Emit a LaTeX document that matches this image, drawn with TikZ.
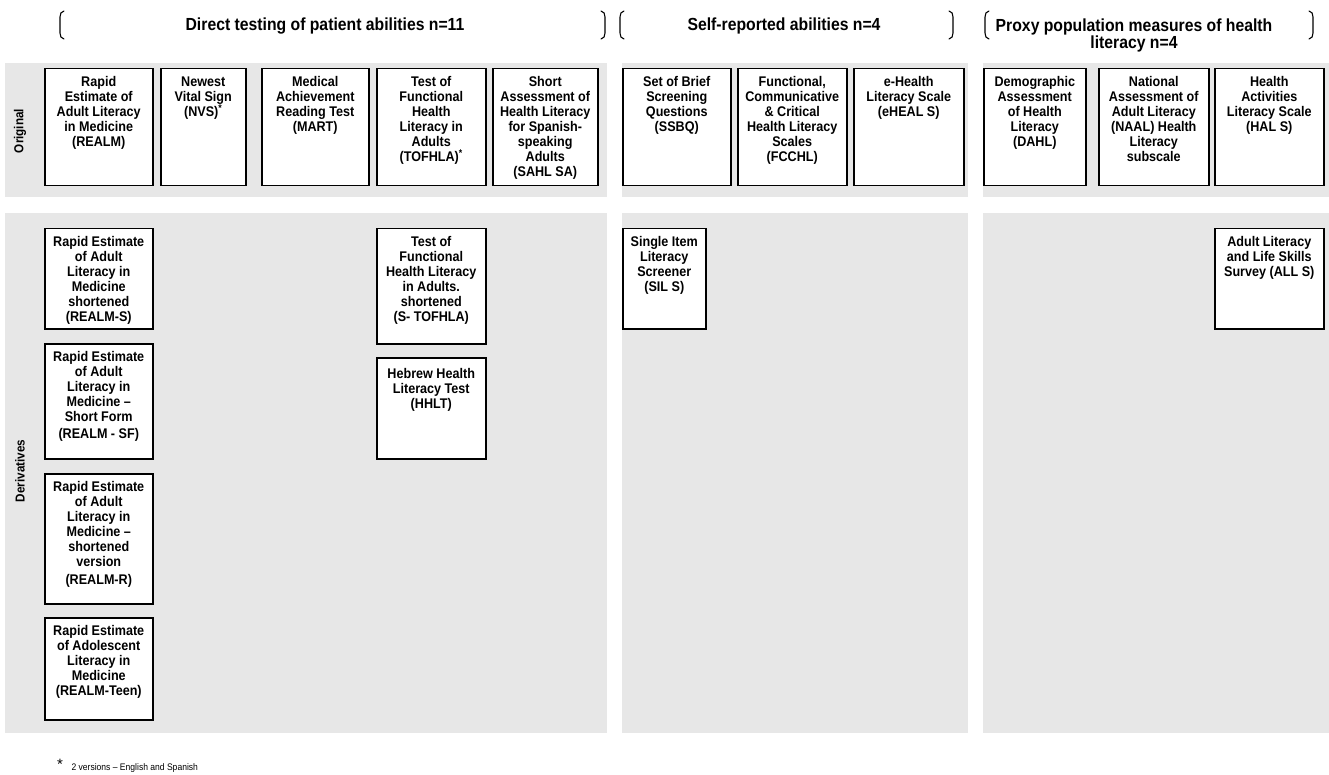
\documentclass[tikz,border=0pt]{standalone}
\usepackage{fontspec}
\setmainfont{Liberation Sans}
\newfontfamily\boxfam[FakeStretch=0.9]{Liberation Sans}
\definecolor{bandgray}{RGB}{231,231,231}
\newcommand{\boxfont}{\boxfam\bfseries\fontsize{14}{15}\selectfont}
\newcommand{\bx}[7][8]{\node[box] (#2) at (#3,#4) {\parbox[c][#6pt][t]{#5pt}{\centering\vspace*{#1pt}\boxfont #7\par}};}
\tikzset{
  band/.style={fill=bandgray, draw=none},
  box/.style={draw=black, fill=white, line width=1.5pt, inner sep=0pt, anchor=north west},
  hdr/.style={font=\boxfam\bfseries\fontsize{17.5}{17}\selectfont, align=center},
  side/.style={font=\boxfam\bfseries\fontsize{13}{14}\selectfont, rotate=90},
  brk/.style={line width=1.1pt, line cap=round},
}
\begin{document}
\begin{tikzpicture}[x=1pt,y=-1pt]
\useasboundingbox (0,0) rectangle (1329,775);
% bands
\fill[band] (5,63) rectangle (607,197);
\fill[band] (622,63) rectangle (968,197);
\fill[band] (983,63) rectangle (1329,197);
\fill[band] (5,213) rectangle (607,733);
\fill[band] (622,213) rectangle (968,733);
\fill[band] (983,213) rectangle (1329,733);
% headers
\draw[brk] (64,11) to[out=180,in=90] (60,17) -- (60,33) to[out=-90,in=180] (64,39);
\draw[brk] (601,11) to[out=0,in=90] (605,17) -- (605,33) to[out=-90,in=0] (601,39);
\draw[brk] (624,11) to[out=180,in=90] (620,17) -- (620,33) to[out=-90,in=180] (624,39);
\draw[brk] (949,11) to[out=0,in=90] (953,17) -- (953,33) to[out=-90,in=0] (949,39);
\draw[brk] (989,11) to[out=180,in=90] (985,17) -- (985,33) to[out=-90,in=180] (989,39);
\draw[brk] (1309,11) to[out=0,in=90] (1313,17) -- (1313,33) to[out=-90,in=0] (1309,39);
\node[hdr] (h1) at (325,26) {Direct testing of patient abilities n=11};
\node[hdr] (h2) at (784,26) {Self-reported abilities n=4};
\node[hdr] (h3) at (1134,35) {Proxy population measures of health\\literacy n=4};
% side labels
\node[side] (lo) at (20,131) {Original};
\node[side] (ld) at (20,471) {Derivatives};
% original row
\bx{o1}{44}{68}{108}{117}{Rapid\\Estimate of\\Adult Literacy\\in Medicine\\(REALM)}
\bx{o2}{160}{68}{85}{117}{Newest\\Vital Sign\\(NVS)\textsuperscript{*}}
\bx{o3}{261}{68}{107}{117}{Medical\\Achievement\\Reading Test\\(MART)}
\bx{o4}{376}{68}{109}{117}{Test of\\Functional\\Health\\Literacy in\\Adults\\(TOFHLA)\textsuperscript{*}}
\bx{o5}{492}{68}{105}{117}{Short\\Assessment of\\Health Literacy\\for Spanish-\\speaking\\Adults\\(SAHL SA)}
\bx{o6}{622}{68}{108}{117}{Set of Brief\\Screening\\Questions\\(SSBQ)}
\bx{o7}{737}{68}{109}{117}{Functional,\\Communicative\\\& Critical\\Health Literacy\\Scales\\(FCCHL)}
\bx{o8}{853}{68}{110}{117}{e-Health\\Literacy Scale\\(eHEAL S)}
\bx{o9}{983}{68}{102}{117}{Demographic\\Assessment\\of Health\\Literacy\\(DAHL)}
\bx{o10}{1098}{68}{110}{117}{National\\Assessment of\\Adult Literacy\\(NAAL) Health\\Literacy\\subscale}
\bx{o11}{1214}{68}{109}{117}{Health\\Activities\\Literacy Scale\\(HAL S)}
% derivatives
\bx{d1}{44}{228}{108}{100}{Rapid Estimate\\of Adult\\Literacy in\\Medicine\\shortened\\(REALM-S)}
\bx{d2}{44}{343}{108}{115}{Rapid Estimate\\of Adult\\Literacy in\\Medicine –\\Short Form\\[2pt](REALM - SF)}
\bx{d3}{44}{473}{108}{130}{Rapid Estimate\\of Adult\\Literacy in\\Medicine –\\shortened\\version\\[3pt](REALM-R)}
\bx{d4}{44}{617}{108}{102}{Rapid Estimate\\of Adolescent\\Literacy in\\Medicine\\(REALM-Teen)}
\bx{d5}{376}{228}{109}{115}{Test of\\Functional\\Health Literacy\\in Adults.\\shortened\\(S- TOFHLA)}
\bx[11]{d6}{376}{357}{109}{101}{Hebrew Health\\Literacy Test\\(HHLT)}
\bx{d7}{622}{228}{83}{100}{Single Item\\Literacy\\Screener\\(SIL S)}
\bx{d8}{1214}{228}{109}{100}{Adult Literacy\\and Life Skills\\Survey (ALL S)}
% footnote
\node[font=\fontsize{15}{15}\selectfont] (st) at (60,764) {*};
\node[anchor=west, font=\boxfam\fontsize{9.5}{11}\selectfont] (fn) at (68,768) {2 versions – English and Spanish};
\end{tikzpicture}
\end{document}
